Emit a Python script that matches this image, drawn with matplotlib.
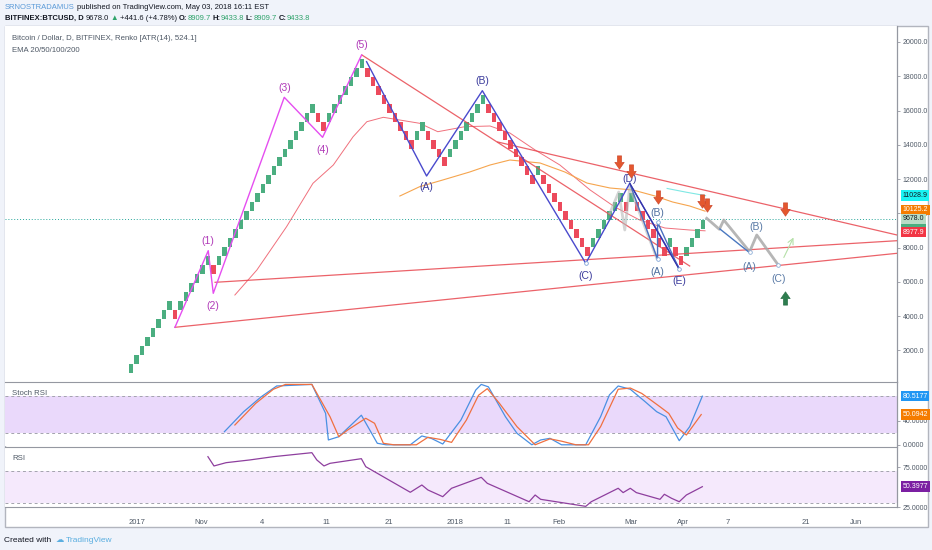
import numpy as np
import matplotlib
matplotlib.use('Agg')
import matplotlib.pyplot as plt
from matplotlib.patches import Rectangle
from matplotlib.path import Path
from matplotlib import transforms

plt.rcParams['font.family'] = ['Liberation Sans', 'DejaVu Sans']

# ---------------- data ----------------
# renko bricks (ATR 524.1): run lengths, + for up bricks, - for down bricks
box_size = 524.1
base_price = 680.0
brick_runs = [8, -1, 6, -1, 18, -2, 7, -9, 2, -4, 7, -9, 1, -9, 6, -1, 1, -6, 1, -2, 4]

# EMA lines (brick index, price)
ema_pink_x = [18.9, 22.9, 28.3, 33.1, 36.8, 40.4, 42.9, 45.9, 52.5, 55.8, 60.7, 65.3, 68.9,
              73.5, 78, 83.5, 88, 92.5, 97.1, 101.6, 104.4]
ema_pink = [5230, 6690, 9217, 11751, 12819, 14471, 15347, 15604, 15254, 14763, 15055, 15096,
            14688, 13695, 12819, 11360, 10367, 9608, 9141, 9025, 8977.9]
ema_orange_x = [48.9, 52.5, 56.7, 61.6, 65.3, 68.9, 74.4, 78.9, 82.9, 87.1, 91.3, 95.3, 98.5, 101.6, 104.4]
ema_orange = [11009, 11553, 11944, 12411, 12819, 13111, 12936, 12411, 11768, 11477, 11360, 11009,
              10659, 10426, 10125.2]
ema_cyan_x = [97.5, 101, 104.5]
ema_cyan = [11450, 11230, 11028.9]

last_price = 9678.0
close_price = 9433.8

# Elliott impulse (1)-(5)
impulse_x = [8.0, 14.06, 14.97, 27.88, 34.85, 41.94]
impulse_y = [3344, 7816, 5329, 16771, 14436, 19241]
impulse_labels = ['(1)', '(2)', '(3)', '(4)', '(5)']

# corrective wave (A)-(E)
corr_x = [42.85, 53.76, 63.9, 82.7, 90.7, 99.7]
corr_y = [18850, 12177, 17157, 7081, 11751, 6789]
corr_labels = ['(A)', '(B)', '(C)', '(D)', '(E)']

# sub-wave after (D)
sub_x = [90.7, 95.76, 95.76, 99.7]
sub_y = [11751, 7314, 9474, 6730]

# projected path
proj_x = [104.7, 107.0, 107.8, 112.5, 113.8, 117.7]
proj_y = [9708, 9066, 9608, 7758, 8733, 6981]
proj_blue_x = [107.1, 112.5]
proj_blue_y = [9083, 7700]
old_path_x = [87.1, 88.7, 89.8, 90.7, 95.6]
old_path_y = [10017, 11243, 9025, 11535, 7390]

# trend lines: (x0, y0, x1, y1)
trend_lines = [
    (42.0, 19241, 101.6, 6923),
    (66.7, 14162, 139.3, 8733),
    (15.3, 5971, 139.3, 8400),
    (8.0, 3344, 139.3, 7664),
]

down_arrows_x = [88.8, 90.9, 95.9, 103.8, 104.8, 118.9]
down_arrows_y = [12954, 12428, 10875, 10677, 10426, 10192]
up_arrow_x, up_arrow_y = 118.9, 5131

# Stoch RSI
stoch_k_x = [17.0, 20.5, 23.7, 26.5, 32.9, 35.4, 35.9, 37.8, 41.9, 44.8, 46.4, 50.8, 52.9, 54.6,
             56.7, 60.0, 62.7, 63.7, 65.0, 68.1, 70.2, 72.9, 74.5, 76.2, 78.3, 82.7, 85.4, 87.0,
             88.6, 90.8, 93.5, 95.6, 97.3, 99.7, 101.6, 103.9]
stoch_k = [21.7, 54.8, 79.6, 97.4, 100, 52, 8, 13.4, 49, 2.5, 0, 0, 14.6, 10.7,
           1.3, 41, 90.7, 100, 96, 46.5, 19, 0, 8, 10.7, 0, 0, 46.5, 82.5,
           97.4, 92, 71.4, 54.8, 46.5, 6.8, 30, 80.5177]
stoch_d_x = [18.9, 22.7, 25.9, 28.1, 32.9, 36.2, 37.8, 39.4, 42.7, 44.3, 45.9, 47.8, 51.9, 54.0,
             56.2, 58.3, 61.0, 63.2, 64.8, 67.0, 70.2, 73.5, 76.2, 78.3, 80.9, 83.2, 85.4, 88.6,
             90.8, 92.9, 96.2, 97.8, 99.4, 101.0, 103.7]
stoch_d = [32.8, 68.7, 92, 100, 100, 46.5, 13.4, 24.5, 43.9, 35.6, 2.5, 0, 0, 12.4,
           9, 4, 41, 82, 93, 68.7, 30, 0, 9.8, 6, 0, 0, 30, 92,
           94, 85, 63, 52, 28, 16.2, 50.0942]

# RSI
rsi_x = [14.0, 15.1, 17.3, 21.6, 25.9, 32.9, 33.8, 35.1, 36.2, 41.9, 42.7, 50.8, 52.9, 54.0,
         56.7, 58.3, 63.7, 64.8, 72.4, 73.5, 74.5, 82.7, 83.7, 88.6, 89.5, 90.8, 91.9, 96.2,
         97.0, 98.3, 99.7, 101.0, 103.9]
rsi = [87.9, 76.3, 80.4, 83.8, 87.9, 92.9, 83.8, 76.3, 79.6, 85.4, 75.4, 43.4, 52.5, 46.3,
       37.9, 48.4, 62.1, 54.6, 31.6, 40, 34.6, 25.8, 31.6, 48.4, 43, 48.4, 43, 34.6,
       40.9, 35.9, 31.6, 40, 50.3977]

date_ticks = [1.1, 12.7, 23.8, 35.6, 46.9, 58.9, 68.4, 77.8, 90.9, 100.4, 108.5, 122.7, 131.8]
date_labels = ['2017', 'Nov', '4', '11', '21', '2018', '11', 'Feb', 'Mar', 'Apr', '7', '21', 'Jun']

# ---------------- layout ----------------
W, H = 932, 550
fig = plt.figure(figsize=(W / 100, H / 100), dpi=100, facecolor='#f0f3fa')


def px_box(x0, y0, x1, y1):
    return [x0 / W, 1 - y1 / H, (x1 - x0) / W, (y1 - y0) / H]


frame = Rectangle((5 / W, 1 - 527 / H), 923 / W, 501 / H, transform=fig.transFigure,
                  facecolor='white', edgecolor='#b2b5be', lw=1.0, zorder=-5)
fig.patches.append(frame)

ax = fig.add_axes(px_box(5, 26, 897, 382))
ax_s = fig.add_axes(px_box(5, 382, 897, 446), sharex=ax)
ax_r = fig.add_axes(px_box(5, 447, 897, 507), sharex=ax)

XMIN, XMAX = -22.9, 139.3
axis_col = '#4f5966'
for a in (ax, ax_s, ax_r):
    a.set_facecolor('white')
    for s in ('left', 'top', 'bottom'):
        a.spines[s].set_visible(False)
    a.spines['right'].set_color('#9598a1')
    a.spines['right'].set_linewidth(0.9)
    a.yaxis.tick_right()
    a.tick_params(axis='y', labelsize=5, colors='#9598a1', labelcolor=axis_col, length=2.5, pad=1.5, width=0.6)
    a.tick_params(axis='x', length=0, labelbottom=False)
for a in (ax_s, ax_r):
    a.spines['top'].set_visible(True)
    a.spines['top'].set_color('#9598a1')
ax_r.spines['bottom'].set_visible(True)
ax_r.spines['bottom'].set_color('#9598a1')
ax.set_xlim(XMIN, XMAX)

# ---------------- main pane ----------------
dirs = np.concatenate([np.full(abs(n), np.sign(n)) for n in brick_runs])
levels = np.cumsum(dirs) - 1
idx = np.arange(len(levels))
bottoms = base_price + levels * box_size
colors = np.where(dirs > 0, '#4bae80', '#ec4a5c')
ax.bar(idx, box_size, bottom=bottoms, width=0.78, color=colors, linewidth=0, zorder=3)

ax.plot(ema_pink_x, ema_pink, color='#f0707c', lw=0.7, zorder=2)
ax.plot(ema_orange_x, ema_orange, color='#f6a54e', lw=0.8, zorder=2)
ax.plot(ema_cyan_x, ema_cyan, color='#7fe8e4', lw=0.8, zorder=2)

ax.axhline(last_price, color='#26a69a', lw=0.7, ls=(0, (1, 2)), zorder=2)

for x0, y0, x1, y1 in trend_lines:
    ax.plot([x0, x1], [y0, y1], color='#e8474f', lw=0.9, alpha=0.85, zorder=4)

ax.plot(old_path_x, old_path_y, color='#b8b8b8', lw=2.0, alpha=0.6, zorder=4)

ax.plot(impulse_x, impulse_y, color='#e54ef0', lw=1.0, zorder=5)
offs = [7, -9, 7, -9, 7]
for lab, x, y, o in zip(impulse_labels, impulse_x[1:], impulse_y[1:], offs):
    ax.annotate(lab, (x, y), xytext=(0, o), textcoords='offset points', ha='center', va='center',
                color='#b03ab8', fontsize=7.5, zorder=7)

ax.plot(corr_x, corr_y, color='#4a4acd', lw=1.0, zorder=5)
offs = [-8, 7, -9, 3, -9]
for lab, x, y, o in zip(corr_labels, corr_x[1:], corr_y[1:], offs):
    ax.annotate(lab, (x, y), xytext=(0, o), textcoords='offset points', ha='center', va='center',
                color='#3b3b9c', fontsize=7.5, zorder=7)
ax.plot(sub_x, sub_y, color='#4a6fc0', lw=1.0, zorder=5)
ax.plot([sub_x[0], sub_x[-1]], [sub_y[0], sub_y[-1]], color='#3535a8', lw=0.9, zorder=5)
ax.annotate('(A)', (sub_x[1], sub_y[1]), xytext=(0, -9), textcoords='offset points', ha='center',
            va='center', color='#5070a0', fontsize=7.5, zorder=7)
ax.annotate('(B)', (sub_x[2], sub_y[2]), xytext=(0, 7), textcoords='offset points', ha='center',
            va='center', color='#5070a0', fontsize=7.5, zorder=7)
ax.scatter(sub_x[1:] + [corr_x[3]], sub_y[1:] + [corr_y[3]], s=7, facecolor='white',
           edgecolor='#7fa3d6', lw=0.6, zorder=6)

ax.plot(proj_x, proj_y, color='#a9a9a9', lw=2.0, alpha=0.85, zorder=5)
ax.plot(proj_blue_x, proj_blue_y, color='#4a78c0', lw=1.0, zorder=5)
for lab, i, o in (('(A)', 3, -11), ('(B)', 4, 6), ('(C)', 5, -10)):
    ax.annotate(lab, (proj_x[i], proj_y[i]), xytext=(0, o), textcoords='offset points', ha='center',
                va='center', color='#5a7aa6', fontsize=7.5, zorder=7)
ax.scatter([proj_x[3], proj_x[5]], [proj_y[3], proj_y[5]], s=7, facecolor='white',
           edgecolor='#8fb0d8', lw=0.6, zorder=6)
ax.annotate('', xy=(120.7, 8733), xytext=(118.5, 7273),
            arrowprops=dict(arrowstyle='->', color='#b5e0a8', lw=0.8), zorder=5)

down = Path([(-0.28, 1), (0.28, 1), (0.28, 0.15), (0.62, 0.15), (0, -0.75), (-0.62, 0.15),
             (-0.28, 0.15), (-0.28, 1)],
            [Path.MOVETO] + [Path.LINETO] * 6 + [Path.CLOSEPOLY])
up = Path(down.vertices * np.array([1, -1]), down.codes)
ax.plot(down_arrows_x, down_arrows_y, ls='none', marker=down, ms=11, mfc='#e4572e',
        mec='#c8432a', mew=0.4, zorder=8)
ax.plot([up_arrow_x], [up_arrow_y], ls='none', marker=up, ms=11, mfc='#2e7d4f',
        mec='#256b42', mew=0.4, zorder=8)

ax.set_ylim(151, 20934)
ax.set_yticks(np.arange(2000, 20001, 2000))
ax.set_yticklabels(['%.1f' % v for v in np.arange(2000, 20001, 2000)])


def price_tag(a, val, text, fc, tc, dy=0):
    tr = transforms.offset_copy(transforms.blended_transform_factory(a.transAxes, a.transData),
                                fig=fig, y=dy, units='points')
    a.text(1.006, val, text, transform=tr, fontsize=5, color=tc, va='center', ha='left',
           bbox=dict(boxstyle='square,pad=0.25', fc=fc, ec='none'), clip_on=False, zorder=10)


price_tag(ax, ema_cyan[-1], '%.1f' % ema_cyan[-1], '#19f3f3', '#131722')
price_tag(ax, ema_orange[-1], '%.1f' % ema_orange[-1], '#f57c00', 'white', dy=1)
price_tag(ax, close_price, '%.1f' % close_price, '#4bae80', 'white', dy=1)
price_tag(ax, last_price, '%.1f' % last_price, '#b9dcc6', '#131722')
price_tag(ax, ema_pink[-1], '%.1f' % ema_pink[-1], '#f23645', 'white', dy=-1)

ax.text(0.008, 0.975, 'Bitcoin / Dollar, D, BITFINEX, Renko [ATR(14), 524.1]', transform=ax.transAxes,
        fontsize=5.6, color='#4f5966', va='top', ha='left')
ax.text(0.008, 0.94, 'EMA 20/50/100/200', transform=ax.transAxes, fontsize=5.6, color='#4f5966',
        va='top', ha='left')

# ---------------- Stoch RSI ----------------
ax_s.axhspan(20, 80, color='#ead9fb', lw=0, zorder=0)
for v in (20, 80):
    ax_s.axhline(v, color='#a3a3ad', lw=0.7, ls=(0, (3, 3)), zorder=1)
ax_s.plot(stoch_k_x, stoch_k, color='#4a90e2', lw=0.9, zorder=3)
ax_s.plot(stoch_d_x, stoch_d, color='#f07040', lw=0.9, zorder=3)
ax_s.set_ylim(-2, 104)
ax_s.set_yticks([0, 40])
ax_s.set_yticklabels(['0.0000', '40.0000'])
price_tag(ax_s, stoch_k[-1], '%.4f' % stoch_k[-1], '#2196f3', 'white')
price_tag(ax_s, stoch_d[-1], '%.4f' % stoch_d[-1], '#f57c00', 'white')
ax_s.text(0.008, 0.88, 'Stoch RSI', transform=ax_s.transAxes, fontsize=5.6, color='#4f5966',
          va='top', ha='left')

# ---------------- RSI ----------------
ax_r.axhspan(30, 70, color='#f5e9fc', lw=0, zorder=0)
for v in (30, 70):
    ax_r.axhline(v, color='#a3a3ad', lw=0.7, ls=(0, (3, 3)), zorder=1)
ax_r.plot(rsi_x, rsi, color='#8e3f9e', lw=0.9, zorder=3)
ax_r.set_ylim(25, 100)
ax_r.set_yticks([25, 75])
ax_r.set_yticklabels(['25.0000', '75.0000'])
price_tag(ax_r, rsi[-1], '%.4f' % rsi[-1], '#7b1fa2', 'white')
ax_r.text(0.008, 0.86, 'RSI', transform=ax_r.transAxes, fontsize=5.6, color='#4f5966',
          va='top', ha='left')

ax_r.set_xticks(date_ticks)
ax_r.set_xticklabels(date_labels)
ax_r.tick_params(axis='x', labelbottom=True, labelsize=5.5, labelcolor=axis_col, pad=8.5)
ax.set_xlim(XMIN, XMAX)

# ---------------- header / footer ----------------
renderer = fig.canvas.get_renderer()


def put_runs(x_px, y_px, runs, size):
    x = x_px / W
    for s, c, w, gap in runs:
        t = fig.text(x, 1 - y_px / H, s, color=c, fontsize=size, fontweight=w, va='center', ha='left')
        bb = t.get_window_extent(renderer=renderer)
        x += (bb.width + gap) / W


green = '#2fa36b'
dark = '#131722'
put_runs(5, 7.5, [('SRNOSTRADAMUS', '#5a9ad8', 'normal', 2.0),
                  ('published on TradingView.com, May 03, 2018 16:11 EST', dark, 'normal', 0)], 5.5)
put_runs(5, 18.5, [('BITFINEX:BTCUSD, D', dark, 'bold', 2.2), ('9678.0', dark, 'normal', 1.5),
                   ('\u25b2', green, 'normal', 1.5), ('+441.6 (+4.78%)', dark, 'normal', 2.0),
                   ('O:', dark, 'bold', 0), ('8909.7', green, 'normal', 2.0),
                   ('H:', dark, 'bold', 0), ('9433.8', green, 'normal', 2.0),
                   ('L:', dark, 'bold', 0), ('8909.7', green, 'normal', 2.0),
                   ('C:', dark, 'bold', 0), ('9433.8', green, 'normal', 0)], 5.5)
put_runs(4, 540, [('Created with', dark, 'normal', 4), ('\u2601', '#5aaee0', 'normal', 2),
                  ('TradingView', '#5aaee0', 'normal', 0)], 6.0)

fig.savefig('out.png', dpi=100, facecolor=fig.get_facecolor())
